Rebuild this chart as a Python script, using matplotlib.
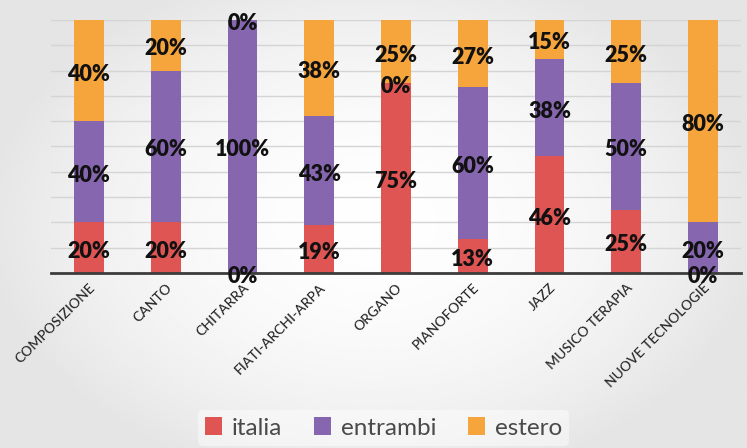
import numpy as np
import matplotlib

matplotlib.use("Agg")
import matplotlib.pyplot as plt
from matplotlib.patches import Patch

corsi = [
    "COMPOSIZIONE",
    "CANTO",
    "CHITARRA",
    "FIATI-ARCHI-ARPA",
    "ORGANO",
    "PIANOFORTE",
    "JAZZ",
    "MUSICO TERAPIA",
    "NUOVE TECNOLOGIE",
]
# shares in percent; labels show them rounded
italia = [20, 20, 0, 19.05, 75, 13.33, 46.15, 25, 0]
entrambi = [40, 60, 100, 42.86, 0, 60, 38.46, 50, 20]
estero = [40, 20, 0, 38.10, 25, 26.67, 15.38, 25, 80]

serie = [("italia", italia, "#df5553"), ("entrambi", entrambi, "#8766b0"), ("estero", estero, "#f6a43c")]

fig = plt.figure(figsize=(7.47, 4.48), dpi=100, facecolor="#eeeff0")

# soft light backdrop, brighter in the middle
bg = fig.add_axes([0, 0, 1, 1], zorder=-10)
yy, xx = np.mgrid[-1:1:200j, -1:1:300j]
r = np.clip(np.sqrt((xx / 1.05) ** 2 + (yy / 1.2) ** 2), 0, 1)
bg.imshow(0.995 - 0.1 * r ** 2, cmap="gray", vmin=0, vmax=1, aspect="auto", extent=[0, 1, 0, 1])
bg.axis("off")

ax = fig.add_axes([0.0677, 0.3906, 0.9248, 0.5648])
ax.patch.set_alpha(0)

x = np.arange(len(corsi))
base = np.zeros(len(corsi))
for nome, valori, colore in serie:
    valori = np.array(valori, dtype=float)
    ax.bar(x, valori, width=0.39, bottom=base, color=colore, zorder=2, label=nome)
    for xi, b, v in zip(x, base, valori):
        ax.annotate(f"{v:.0f}%", (xi, b + v / 2), xytext=(0, -2.5), textcoords="offset points",
                    ha="center", va="center", fontsize=15.5, fontweight="heavy",
                    family="Lato", color="#111111", zorder=4)
    base += valori

ax.set_xlim(-0.5, len(corsi) - 0.5)
ax.set_ylim(0, 100)
ax.set_yticks(np.arange(10, 101, 10))
ax.yaxis.grid(True, color="#d4d4d4", linewidth=1)
ax.set_axisbelow(True)
ax.tick_params(axis="y", left=False, labelleft=False)
ax.tick_params(axis="x", length=0, pad=6)
ax.set_xticks(x, corsi, rotation=45, ha="right", rotation_mode="anchor",
              fontsize=10, family="Lato", fontweight="medium", color="#262626")

for lato in ["top", "right", "left"]:
    ax.spines[lato].set_visible(False)
ax.spines["bottom"].set_color("#3c3c3c")
ax.spines["bottom"].set_linewidth(2)
ax.spines["bottom"].set_zorder(3)

handles = [Patch(facecolor=c, label=n) for n, _, c in serie]
leg = fig.legend(handles=handles, loc="center", bbox_to_anchor=(0.5 + 10 / 747, 1 - 428 / 448),
                 ncol=3, frameon=True, handlelength=0.7, handleheight=0.7,
                 handletextpad=0.4, columnspacing=1.3, borderpad=0.3,
                 prop={"family": "Lato", "size": 17.5})
leg.get_frame().set_facecolor("white")
leg.get_frame().set_alpha(0.45)
leg.get_frame().set_edgecolor("none")
for t in leg.get_texts():
    t.set_color("#4a4a4a")

fig.savefig("out.png", dpi=100, facecolor=fig.get_facecolor())
